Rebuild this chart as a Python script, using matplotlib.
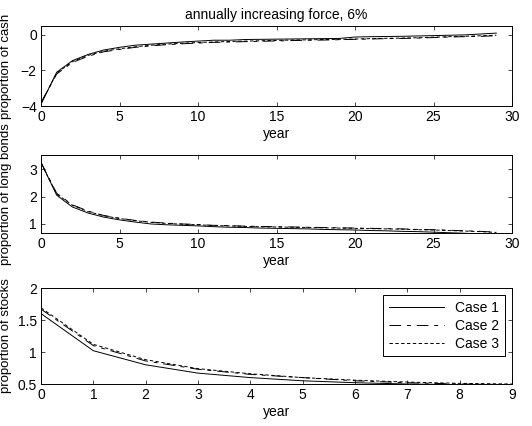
import numpy as np
import matplotlib
matplotlib.use("Agg")
import matplotlib.pyplot as plt

plt.rcParams['font.family'] = ['Liberation Sans', 'DejaVu Sans']
plt.rcParams['font.size'] = 10

years_long = np.arange(30)
years_short = np.arange(10)

cash_1 = [-3.9, -2.1, -1.45, -1.1, -0.85, -0.7, -0.58, -0.52, -0.46, -0.4,
          -0.35, -0.3, -0.3, -0.26, -0.25, -0.24, -0.23, -0.22, -0.21, -0.2,
          -0.12, -0.1, -0.09, -0.08, -0.06, -0.04, -0.02, 0.0, 0.05, 0.1]
cash_2 = [-3.8, -2.2, -1.55, -1.2, -0.95, -0.82, -0.7, -0.62, -0.55, -0.5,
          -0.46, -0.42, -0.4, -0.38, -0.36, -0.34, -0.32, -0.3, -0.29, -0.27,
          -0.25, -0.23, -0.21, -0.2, -0.18, -0.15, -0.12, -0.1, -0.08, -0.05]
cash_3 = [-3.85, -2.15, -1.5, -1.15, -0.92, -0.78, -0.67, -0.58, -0.52, -0.47,
          -0.43, -0.4, -0.37, -0.35, -0.33, -0.31, -0.29, -0.28, -0.26, -0.25,
          -0.23, -0.21, -0.19, -0.18, -0.16, -0.13, -0.1, -0.08, -0.05, -0.02]

bonds_1 = [3.25, 2.05, 1.62, 1.4, 1.25, 1.15, 1.07, 1.0, 0.97, 0.95,
           0.93, 0.9, 0.88, 0.87, 0.85, 0.84, 0.83, 0.82, 0.8, 0.79,
           0.78, 0.76, 0.75, 0.73, 0.72, 0.7, 0.68, 0.66, 0.63, 0.6]
bonds_2 = [3.25, 2.12, 1.7, 1.47, 1.31, 1.21, 1.13, 1.07, 1.03, 1.0,
           0.98, 0.95, 0.94, 0.92, 0.91, 0.9, 0.89, 0.88, 0.87, 0.86,
           0.85, 0.84, 0.83, 0.82, 0.8, 0.79, 0.77, 0.75, 0.73, 0.7]
bonds_3 = [3.22, 2.1, 1.68, 1.45, 1.3, 1.2, 1.12, 1.06, 1.02, 0.99,
           0.97, 0.94, 0.93, 0.91, 0.9, 0.89, 0.88, 0.87, 0.86, 0.85,
           0.84, 0.83, 0.82, 0.81, 0.79, 0.78, 0.76, 0.74, 0.72, 0.69]

stocks_1 = [1.6, 1.02, 0.8, 0.67, 0.6, 0.55, 0.52, 0.5, 0.49, 0.48]
stocks_2 = [1.67, 1.1, 0.86, 0.73, 0.65, 0.6, 0.55, 0.52, 0.5, 0.49]
stocks_3 = [1.69, 1.12, 0.88, 0.74, 0.66, 0.6, 0.56, 0.53, 0.51, 0.5]

labels = ["Case 1", "Case 2", "Case 3"]
styles = [dict(color="black", lw=0.7, ls="-"),
          dict(color="black", lw=0.7, dashes=(12, 6, 4, 6)),
          dict(color="black", lw=0.7, dashes=(3.5, 2.5))]

fig = plt.figure(figsize=(5.32, 4.26), dpi=100)

ax1 = fig.add_axes([41 / 532, 1 - 106 / 426, 471 / 532, 80 / 426])
ax2 = fig.add_axes([41 / 532, 1 - 233 / 426, 471 / 532, 78 / 426])
ax3 = fig.add_axes([41 / 532, 1 - 384 / 426, 471 / 532, 96 / 426])

for ys, st in zip([cash_1, cash_2, cash_3], styles):
    ax1.plot(years_long, ys, **st)
ax1.set_xlim(0, 30)
ax1.set_ylim(-4, 0.5)
ax1.set_yticks([-4, -2, 0])
ax1.set_title("annually increasing force, 6%", fontsize=10, pad=5)
ax1.set_ylabel("proportion of cash", fontsize=9.5)

for ys, st in zip([bonds_1, bonds_2, bonds_3], styles):
    ax2.plot(years_long, ys, **st)
ax2.set_xlim(0, 30)
ax2.set_ylim(0.67, 3.52)
ax2.set_yticks([1, 2, 3])
ax2.set_ylabel("proportion of long bonds", fontsize=9.5)

for ys, st, lab in zip([stocks_1, stocks_2, stocks_3], styles, labels):
    ax3.plot(years_short, ys, label=lab, **st)
ax3.set_xlim(0, 9)
ax3.set_ylim(0.5, 2)
ax3.set_yticks([0.5, 1, 1.5, 2])
ax3.set_yticklabels(["0.5", "1", "1.5", "2"])
ax3.set_ylabel("proportion of stocks", fontsize=9.5)
leg = ax3.legend(loc="upper right", fancybox=False, framealpha=1,
                 edgecolor="black", handlelength=4, borderaxespad=0.5,
                 labelspacing=0.3, borderpad=0.4)
leg.get_frame().set_linewidth(0.7)

for ax in (ax1, ax2, ax3):
    ax.set_xlabel("year", labelpad=2)
    ax.tick_params(direction="in", top=True, right=True, length=3, width=0.5,
                   pad=3)
    for sp in ax.spines.values():
        sp.set_linewidth(0.7)
    ax.yaxis.set_label_coords(-0.062, 0.5)

fig.savefig("out.png", dpi=100)
